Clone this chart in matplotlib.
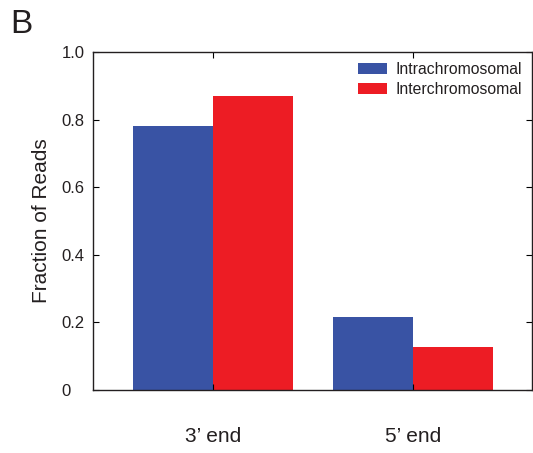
import matplotlib
matplotlib.use("Agg")
import matplotlib.pyplot as plt
import numpy as np

plt.rcParams['font.family'] = ['Liberation Sans', 'DejaVu Sans']

categories = ["3\u2019 end", "5\u2019 end"]
intra = [0.78, 0.217]
inter = [0.869, 0.128]
series_names = ["Intrachromosomal", "Interchromosomal"]
yticks = [0, 0.2, 0.4, 0.6, 0.8, 1.0]
yticklabels = ["0", "0.2", "0.4", "0.6", "0.8", "1.0"]

blue = "#3953A4"
red = "#ED1C24"

fig = plt.figure(figsize=(5.33, 4.53), dpi=100)
ax = fig.add_axes([93/533, 1-390/453, (532-93)/533, (390-52)/453])

x = np.arange(1, len(categories)+1)
w = 0.4
ax.bar(x - w/2, intra, w, color=blue, label=series_names[0])
ax.bar(x + w/2, inter, w, color=red, label=series_names[1])

ax.set_xlim(0.4, 2.595)
ax.set_ylim(0, 1.0)
ax.set_yticks(yticks)
ax.set_yticklabels(yticklabels, ha='left')
ax.set_xticks(x)
ax.set_xticklabels(categories)
ax.tick_params(axis='both', direction='in', top=True, right=True, length=4, width=0.8)
ax.tick_params(axis='y', pad=22.5, labelsize=12, labelcolor='#231f20')
ax.tick_params(axis='x', pad=27, labelsize=15, labelcolor='#231f20')
for s in ax.spines.values():
    s.set_linewidth(1.0)
    s.set_color('#231f20')
ax.set_ylabel("Fraction of Reads", fontsize=15, labelpad=8, color='#231f20')

ax.legend(loc='upper left', frameon=False, fontsize=11.3, handlelength=1.85, handleheight=0.7,
          handletextpad=0.55, labelspacing=0.3, borderpad=0, borderaxespad=0,
          bbox_to_anchor=(357.7/533, 1-62/453), bbox_transform=fig.transFigure,
          labelcolor='#231f20')

fig.text(10/533, 1-33/453, "B", fontsize=24, color='#231f20')

fig.savefig("out.png", dpi=100)
